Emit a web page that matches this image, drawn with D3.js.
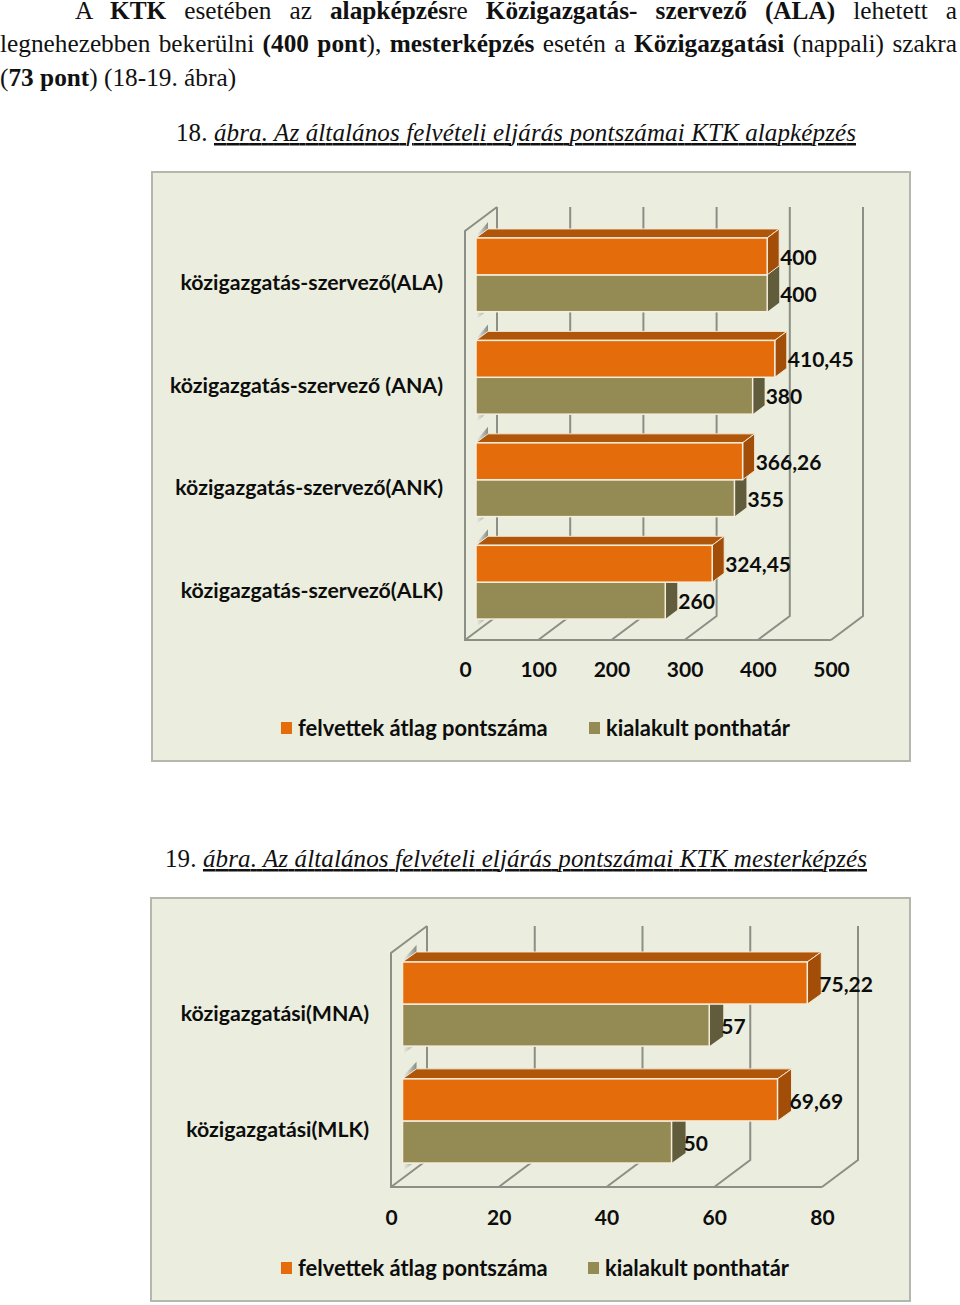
<!DOCTYPE html>
<html lang="hu">
<head>
<meta charset="utf-8">
<title>KTK pontszámok</title>
<script src="https://cdn.jsdelivr.net/npm/d3@7"></script>
<style>
  html, body { margin: 0; padding: 0; background: #fff; }
  svg { display: block; }
  .doc { font-family: "Liberation Serif", serif; fill: #111; }
  .lbl, .lbl text { font-family: Lato, sans-serif; font-weight: 700; fill: #0d0d0d; }
</style>
</head>
<body>
<div id="page"></div>
<script>
// chart 18 - alapkepzes
const categoriesA = ['közigazgatás-szervező(ALA)', 'közigazgatás-szervező (ANA)', 'közigazgatás-szervező(ANK)', 'közigazgatás-szervező(ALK)'];
const atlagA = [400, 410.45, 366.26, 324.45];
const hatarA = [400, 380, 355, 260];
const ticksA = [0, 100, 200, 300, 400, 500];

// chart 19 - mesterkepzes
const categoriesB = ['közigazgatási(MNA)', 'közigazgatási(MLK)'];
const atlagB = [75.22, 69.69];
const hatarB = [57, 50];
const ticksB = [0, 20, 40, 60, 80];

const seriesNames = ['felvettek átlag pontszáma', 'kialakult ponthatár'];
const seriesColors = ['#e46c0a', '#948a54'];
const topColors = ['#b0560a', '#7d7446'];
const sideColors = ['#a34e08', '#615c3b'];

const svg = d3.select('#page').append('svg')
  .attr('width', 960)
  .attr('height', 1305);

// little shadow the bars throw on the left wall
const defs = svg.append('defs');
const shadow = defs.append('linearGradient').attr('id', 'wallShadow');
shadow.append('stop').attr('offset', '0%').attr('stop-color', '#f4f5ee');
shadow.append('stop').attr('offset', '100%').attr('stop-color', '#868d84');

// body text, justified by hand through word-spacing
const bodyLines = [
  { x: 75, y: 19, end: 957, parts: [['A ', 0], ['KTK', 1], [' esetében az ', 0], ['alapképzés', 1], ['re ', 0], ['Közigazgatás- szervező (ALA)', 1], [' lehetett a', 0]] },
  { x: 0, y: 52, end: 957, parts: [['legnehezebben bekerülni ', 0], ['(400 pont', 1], ['), ', 0], ['mesterképzés', 1], [' esetén a ', 0], ['Közigazgatási', 1], [' (nappali) szakra', 0]] },
  { x: 0, y: 86, parts: [['(', 0], ['73 pont', 1], [') (18-19. ábra)', 0]] }
];

bodyLines.forEach(function (line) {
  let t = svg.append('text')
    .attr('class', 'doc')
    .attr('x', line.x)
    .attr('y', line.y)
    .style('font-size', '25.3px')
    .style('white-space', 'pre');
  line.parts.forEach(function (p) {
    t.append('tspan').style('font-weight', p[1] ? 700 : 400).text(p[0]);
  });
  if (line.end) {
    let gaps = line.parts.map(function (p) { return p[0]; }).join('').split(' ').length - 1;
    let extra = (line.end - line.x - t.node().getComputedTextLength()) / gaps;
    t.style('word-spacing', extra + 'px');
  }
});

function caption(x, y, num, rest, end) {
  let t = svg.append('text')
    .attr('class', 'doc')
    .attr('x', x)
    .attr('y', y)
    .style('font-size', '25px')
    .style('white-space', 'pre');
  t.append('tspan').text(num + ' ');
  t.append('tspan')
    .style('font-style', 'italic')
    .style('text-decoration', 'underline')
    .text(rest);
  t.attr('textLength', end - x).attr('lengthAdjust', 'spacing');
}

caption(176, 141, '18.', 'ábra. Az általános felvételi eljárás pontszámai KTK alapképzés', 856);
caption(165, 867, '19.', 'ábra. Az általános felvételi eljárás pontszámai KTK mesterképzés', 867);

function drawChart(o) {
  let g = svg.append('g');

  g.append('rect')
    .attr('x', o.panel[0])
    .attr('y', o.panel[1])
    .attr('width', o.panel[2] - o.panel[0])
    .attr('height', o.panel[3] - o.panel[1])
    .attr('fill', '#ebeede')
    .attr('stroke', '#b4b7ac')
    .attr('stroke-width', 2);

  // the tick labels sit on the front edge of the floor, the bars a bit further in
  let xScale = d3.scaleLinear().domain(o.domain).range(o.xRange);
  let barScale = d3.scaleLinear().domain(o.domain).range(o.barRange);
  let dx = o.depth[0], dy = o.depth[1];

  // walls and grid
  let wall = g.append('g').attr('fill', 'none').attr('stroke', '#8b8f85').attr('stroke-width', 2);

  wall.selectAll('.back')
    .data(o.ticks)
    .enter()
    .append('path')
    .attr('class', 'back')
    .attr('d', function (d) {
      let x = xScale(d);
      return 'M' + (x + o.wallDepth[0]) + ',' + o.wallTop +
        'V' + (o.floor - o.wallDepth[1]) +
        'L' + x + ',' + o.floor;
    });

  wall.append('path')
    .attr('d', 'M' + (xScale(0) + o.wallDepth[0]) + ',' + o.wallTop +
      'L' + xScale(0) + ',' + (o.wallTop + o.wallDepth[1]) +
      'V' + o.floor +
      'H' + xScale(o.domain[1]));

  // bands
  let yScale = d3.scaleBand()
    .domain(o.categories)
    .range(o.yRange)
    .paddingInner(0.28)
    .paddingOuter(0.14);

  let ySeries = d3.scaleBand()
    .domain([0, 1])
    .range([0, yScale.bandwidth()]);

  let rows = o.categories.map(function (c, i) {
    return { cat: c, values: [o.atlag[i], o.hatar[i]] };
  });

  let row = g.selectAll('.row')
    .data(rows)
    .enter()
    .append('g')
    .attr('class', 'row')
    .attr('transform', function (d) { return 'translate(0,' + yScale(d.cat) + ')'; });

  // shadow bits on the wall, above and under each group
  row.append('path')
    .attr('fill', 'url(#wallShadow)')
    .attr('d', function () {
      let x = barScale(0);
      return 'M' + x + ',0L' + (x + dx) + ',' + dy + 'V' + (dy - 7) + 'L' + x + ',-2Z';
    });
  row.append('path')
    .attr('fill', 'url(#wallShadow)')
    .attr('opacity', 0.6)
    .attr('d', function () {
      let x = barScale(0);
      let b = yScale.bandwidth() + 1;
      return 'M' + x + ',' + b + 'h' + (dx * 0.7) + 'L' + x + ',' + (b + 7) + 'Z';
    });

  // lower bar first: its back part has to disappear behind the orange one
  let bars = row.selectAll('.bar')
    .data(function (d) {
      return d.values.map(function (v, s) { return { v: v, s: s }; }).reverse();
    })
    .enter()
    .append('g')
    .attr('class', 'bar');

  bars.append('path')
    .attr('fill', function (d) { return topColors[d.s]; })
    .attr('stroke', '#f3e6d2')
    .attr('stroke-width', 1)
    .attr('d', function (d) {
      let x1 = barScale(d.v);
      let y = ySeries(d.s);
      return 'M' + barScale(0) + ',' + y + 'L' + (barScale(0) + dx) + ',' + (y + dy) + 'H' + (x1 + dx) + 'L' + x1 + ',' + y + 'Z';
    });

  bars.append('path')
    .attr('fill', function (d) { return sideColors[d.s]; })
    .attr('stroke', function (d) { return d.s === 0 ? '#f3e6d2' : 'none'; })
    .attr('stroke-width', 1)
    .attr('d', function (d) {
      let x1 = barScale(d.v);
      let y = ySeries(d.s);
      let h = ySeries.bandwidth();
      return 'M' + x1 + ',' + y + 'L' + (x1 + dx) + ',' + (y + dy) + 'V' + (y + dy + h) + 'L' + x1 + ',' + (y + h) + 'Z';
    });

  bars.append('rect')
    .attr('x', barScale(0))
    .attr('y', function (d) { return ySeries(d.s); })
    .attr('width', function (d) { return barScale(d.v) - barScale(0); })
    .attr('height', ySeries.bandwidth())
    .attr('fill', function (d) { return seriesColors[d.s]; })
    .attr('stroke', '#f6eddd')
    .attr('stroke-width', 1.5);

  bars.append('text')
    .attr('class', 'lbl')
    .attr('x', function (d) { return barScale(d.v) + o.labelGap; })
    .attr('y', function (d) { return ySeries(d.s) + ySeries.bandwidth() / 2 + o.labelDy; })
    .attr('dy', '.35em')
    .style('font-size', '21px')
    .text(function (d) { return String(d.v).replace('.', ','); });

  // axes, only the labels are visible
  let xAxis = d3.axisBottom(xScale).tickValues(o.ticks).tickSize(0).tickPadding(0);
  let xg = g.append('g')
    .attr('class', 'lbl')
    .attr('transform', 'translate(0,' + o.tickY + ')')
    .call(xAxis);
  xg.select('.domain').remove();
  xg.selectAll('text')
    .attr('y', 0)
    .attr('dy', '.35em')
    .style('font-size', '21px');

  let yAxis = d3.axisLeft(yScale).tickSize(0).tickPadding(0);
  let yg = g.append('g')
    .attr('class', 'lbl')
    .attr('transform', 'translate(' + o.catX + ',' + o.catDy + ')')
    .call(yAxis);
  yg.select('.domain').remove();
  yg.selectAll('text')
    .attr('x', 0)
    .attr('dy', '.35em')
    .style('font-size', '21.3px');

  // legend
  let legend = g.selectAll('.legend')
    .data(seriesNames)
    .enter()
    .append('g')
    .attr('class', 'legend')
    .attr('transform', function (d, i) { return 'translate(' + o.legendX[i] + ',' + o.legendY + ')'; });

  legend.append('rect')
    .attr('x', 0)
    .attr('y', -6)
    .attr('width', 11)
    .attr('height', 12)
    .attr('fill', function (d, i) { return seriesColors[i]; });

  legend.append('text')
    .attr('class', 'lbl')
    .attr('x', 17)
    .attr('dy', '.35em')
    .style('font-size', '21.9px')
    .text(function (d) { return d; });
}

drawChart({
  categories: categoriesA, atlag: atlagA, hatar: hatarA, ticks: ticksA,
  domain: [0, 500], panel: [152, 172, 910, 761],
  xRange: [465, 831], barRange: [476, 840], depth: [12, -9], wallDepth: [32, 24],
  wallTop: 207, floor: 640, yRange: [223.6, 633.4], labelGap: 13, labelDy: 1,
  tickY: 670, catX: 443, catDy: 8, legendX: [281, 589], legendY: 728
});

drawChart({
  categories: categoriesB, atlag: atlagB, hatar: hatarB, ticks: ticksB,
  domain: [0, 80], panel: [151, 898, 910, 1301],
  xRange: [391, 822], barRange: [402.5, 833], depth: [14, -10], wallDepth: [36, 27],
  wallTop: 926, floor: 1187, yRange: [945.6, 1179.4], labelGap: 12, labelDy: 2,
  tickY: 1218, catX: 369, catDy: 9, legendX: [281, 588], legendY: 1268
});
</script>
</body>
</html>
